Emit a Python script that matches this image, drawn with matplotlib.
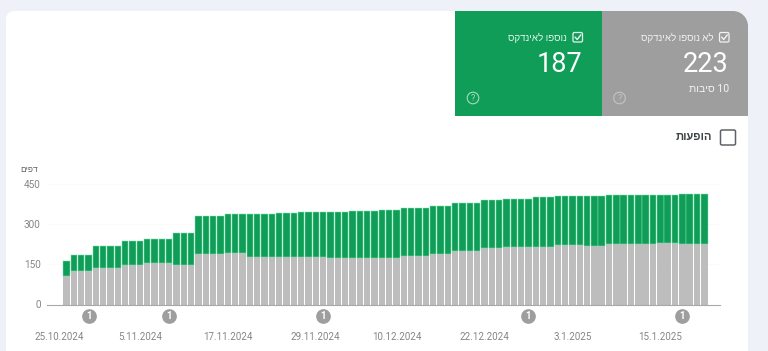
import numpy as np
import matplotlib
matplotlib.use('Agg')
import matplotlib.pyplot as plt
from matplotlib.patches import Circle, FancyBboxPatch, PathPatch, Rectangle
from matplotlib.path import Path

not_indexed = [106,
               125, 125, 125,
               137, 137, 137, 137,
               149, 149, 149,
               154, 154, 154, 154,
               148, 148, 148,
               187, 187, 187, 187,
               190, 190, 190,
               178, 178, 178, 178,
               178, 178, 178,
               177, 177, 177, 177,
               174, 174, 174,
               174, 174, 174, 174,
               173, 173, 173,
               180, 180, 180, 180,
               187, 187, 187,
               201, 201, 201, 201,
               211, 211, 211,
               215, 215, 215, 215,
               216, 216, 216,
               220, 220, 220, 220,
               218, 218, 218,
               224, 224, 224, 224, 224, 224, 224,
               229, 229, 229,
               226, 226, 226, 226]
indexed = [57,
           59, 59, 59,
           81, 81, 81, 81,
           87, 87, 87,
           91, 91, 91, 91,
           119, 119, 119,
           144, 144, 144, 144,
           147, 147, 147,
           159, 158, 158, 158,
           162, 162, 162,
           166, 166, 166, 166,
           172, 172, 172,
           174, 174, 174, 174,
           178, 178, 178,
           179, 179, 179, 179,
           180, 180, 180,
           178, 178, 178, 178,
           177, 177, 177,
           179, 179, 179, 179,
           184, 184, 184,
           184, 184, 184, 184,
           186, 186, 186,
           183, 183, 183, 183, 183, 183, 183,
           180, 180, 180,
           184, 184, 184, 184]
date_ticks = [-1, 10, 22, 34, 45, 57, 69, 81]
date_labels = ['25.10.2024', '5.11.2024', '17.11.2024', '29.11.2024',
               '10.12.2024', '22.12.2024', '3.1.2025', '15.1.2025']
y_ticks = [0, 150, 300, 450]
event_days = [3, 14, 35, 63, 84]

W, H = 768, 351
BG = '#eef2f8'
GREEN = '#0f9d58'
GRAY_CARD = '#9e9e9e'
GRAY_BAR = '#bdbdbd'
TEXT = '#858585'
FONTS = ['Roboto', 'Liberation Sans', 'DejaVu Sans']
plt.rcParams['font.family'] = FONTS


def heb(s):
    # matplotlib has no bidi support, so hebrew goes in visual order
    return s[::-1]


def rounded_rect(x0, y0, x1, y1, tl, tr):
    k = 0.45
    verts = [(x0, y1), (x0, y0 + tl), (x0, y0 + tl * k), (x0 + tl * k, y0), (x0 + tl, y0),
             (x1 - tr, y0), (x1 - tr * k, y0), (x1, y0 + tr * k), (x1, y0 + tr),
             (x1, y1), (x0, y1)]
    codes = [Path.MOVETO, Path.LINETO, Path.CURVE4, Path.CURVE4, Path.CURVE4,
             Path.LINETO, Path.CURVE4, Path.CURVE4, Path.CURVE4,
             Path.LINETO, Path.CLOSEPOLY]
    return Path(verts, codes)


def checkbox(bg, x, y, size, color, checked=True, lw=0.9):
    bg.add_patch(FancyBboxPatch((x, y), size, size, boxstyle='round,pad=0,rounding_size=1.5',
                                fc='none', ec=color, lw=lw))
    if checked:
        bg.plot([x + 2.2, x + 4.2, x + size - 1.8], [y + size * 0.5, y + size - 2.5, y + 2.5],
                color=color, lw=1.0)


def help_icon(bg, x, y, color):
    bg.add_patch(Circle((x, y), 5.8, fc='none', ec=color, lw=0.8))
    bg.text(x, y + 0.2, '?', color=color, fontsize=6.5, ha='center', va='center')


fig = plt.figure(figsize=(W / 100, H / 100), dpi=100, facecolor=BG)

# page and cards, in pixel coordinates
bg = fig.add_axes([0, 0, 1, 1])
bg.set_xlim(0, W)
bg.set_ylim(H, 0)
bg.axis('off')
bg.add_patch(PathPatch(rounded_rect(6, 11, 748, H + 5, 8, 15), fc='white', ec='none'))
bg.add_patch(Rectangle((455.3, 11), 146.7, 105, fc=GREEN, ec='none'))
bg.add_patch(PathPatch(rounded_rect(602, 11, 748, 116, 0, 15), fc=GRAY_CARD, ec='none'))

checkbox(bg, 573, 32.5, 9.5, '#e6f5ec')
bg.text(567, 37.5, heb('נוספו לאינדקס'), color='#e6f5ec', fontsize=7, ha='right', va='center')
bg.text(582.5, 65, '187', color='white', fontsize=19.5, ha='right', va='center')
help_icon(bg, 473, 98, '#a5dcc0')

checkbox(bg, 719.5, 32.5, 9.5, '#f2f2f2')
bg.text(714, 37.5, heb('לא נוספו לאינדקס'), color='#f2f2f2', fontsize=7, ha='right', va='center')
bg.text(728.5, 65, '223', color='white', fontsize=19.5, ha='right', va='center')
bg.text(729, 89.5, heb('סיבות') + ' 10', color='#f5f5f5', fontsize=7.5, ha='right', va='center')
help_icon(bg, 619.5, 98, '#c4c4c4')

checkbox(bg, 720.5, 130, 15, '#5f6368', checked=False, lw=1.1)
bg.text(712, 137, heb('הופעות'), color='#3c4043', fontsize=8, fontweight='bold', ha='right', va='center')
bg.text(38, 170.5, heb('דפים'), color='#5f6368', fontsize=6, ha='right', va='center')

# chart, 7.33 px per day, first bar centred on 66.6 px
ax = fig.add_axes([47 / W, 1 - 304.5 / H, 673 / W, 120.8 / H])
ax.patch.set_alpha(0)
x = np.arange(len(not_indexed))
ax.bar(x, not_indexed, width=0.87, color=GRAY_BAR, linewidth=0, zorder=2)
ax.bar(x, indexed, width=0.87, bottom=not_indexed, color=GREEN,
       edgecolor='#7fe3ae', linewidth=0.35, zorder=2)
ax.set_xlim(-2.67, 89.14)
ax.set_ylim(0, 450)
ax.set_yticks(y_ticks)
ax.set_xticks(date_ticks, date_labels)
ax.tick_params(axis='x', length=0, pad=20, labelsize=7, labelcolor=TEXT)
ax.tick_params(axis='y', length=0, pad=4.5, labelsize=7.2, labelcolor=TEXT)
ax.grid(axis='y', color='#fafafa', linewidth=0.7, zorder=0)
for side in ['top', 'left', 'right']:
    ax.spines[side].set_visible(False)
ax.spines['bottom'].set_color('#a8a8a8')
ax.spines['bottom'].set_linewidth(0.8)

# event markers under the axis
ax.scatter(event_days, [-42.5] * len(event_days), s=112, color='#9e9e9e', linewidth=0,
           clip_on=False, zorder=3)
for d in event_days:
    ax.text(d, -42.5, '1', color='white', fontsize=7, fontweight='bold', ha='center', va='center')

fig.savefig('out.png', dpi=100)
